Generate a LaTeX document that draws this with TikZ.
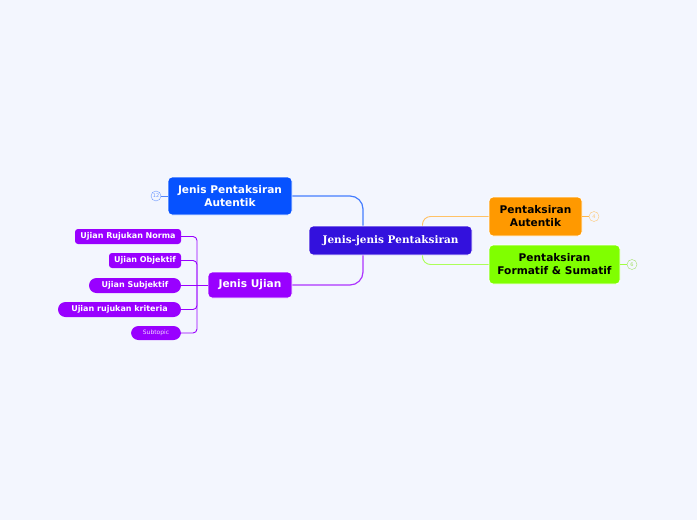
\documentclass[tikz,border=0pt]{standalone}
\usepackage{fontspec}
\setmainfont{DejaVu Sans}
\newfontfamily\serifb{DejaVu Serif}
\definecolor{bg}{HTML}{F3F6FE}
\definecolor{cmain}{HTML}{3311DD}
\definecolor{cblue}{HTML}{0652FF}
\definecolor{cpurp}{HTML}{9900FF}
\definecolor{corange}{HTML}{FF9900}
\definecolor{cgreen}{HTML}{80FF00}
\tikzset{
  base/.style={rounded corners=4pt, inner sep=0pt, align=center, font=\bfseries\fontsize{10.6}{13}\selectfont},
  topic/.style={base, draw=white, line width=0.8pt},
  sub/.style={fill=cpurp, inner sep=0pt, text=white, font=\bfseries\fontsize{8}{9}\selectfont, minimum height=15pt},
  subrect/.style={sub, rounded corners=3pt},
  subpill/.style={sub, rounded corners=7.5pt},
  count/.style={circle, draw=#1, fill=bg, minimum size=10pt, inner sep=0pt, text=#1, font=\fontsize{5}{5}\selectfont},
  conn/.style={line width=1.2pt},
  thin/.style={line width=0.9pt}
}
\begin{document}
\begin{tikzpicture}[x=1pt,y=-1pt]
\fill[bg] (0,0) rectangle (697,520);
\useasboundingbox (0,0) rectangle (697,520);

\node[topic, fill=cmain, text=white, minimum width=163pt, minimum height=29pt, font=\serifb\bfseries\fontsize{10.5}{12}\selectfont] (c) at (390.5,240.5) {Jenis-jenis Pentaksiran};
\node[topic, fill=cblue, text=white, minimum width=124pt, minimum height=38pt] (jpa) at (230,196) {Jenis Pentaksiran\\Autentik};
\node[topic, fill=cpurp, text=white, minimum width=84pt, minimum height=26pt] (ju) at (250,285) {Jenis Ujian};
\node[topic, fill=corange, text=black, minimum width=93pt, minimum height=39pt] (pa) at (535.5,216.5) {Pentaksiran\\Autentik};
\node[topic, fill=cgreen, text=black, minimum width=131pt, minimum height=39pt] (pf) at (554.5,264.5) {Pentaksiran\\Formatif \& Sumatif};

\node[subrect, minimum width=106pt] (n1) at (128,236.5) {Ujian Rujukan Norma};
\node[subrect, minimum width=72pt] (n2) at (145,260.5) {Ujian Objektif};
\node[subpill, minimum width=92pt] (n3) at (135,285.5) {Ujian Subjektif};
\node[subpill, minimum width=123pt] (n4) at (119.5,309.5) {Ujian rujukan kriteria};
\node[subpill, minimum width=50pt, minimum height=14pt, font=\fontsize{6}{7}\selectfont, text=white!85!cpurp] (n5) at (156,333) {Subtopic};

\node[count=cblue!60] (k12) at (156,196) {12};
\node[count=corange!55] (k4) at (594,216.5) {4};
\node[count=cgreen!80!black!60] (k6) at (632,264.5) {6};

% main connectors
\draw[conn, cblue!75, rounded corners=13pt] (jpa.east) -| ([xshift=-27.5pt]c.north);
\draw[conn, cpurp!80, rounded corners=13pt] (ju.east) -| ([xshift=-27.5pt]c.south);
\draw[thin, corange!60, rounded corners=8pt] ([xshift=32pt]c.north) |- (pa.west);
\draw[thin, cgreen!65, rounded corners=8pt] ([xshift=32pt]c.south) |- (pf.west);

% count connectors
\draw[thin, cblue!70] (k12) -- (jpa.west);
\draw[thin, corange!70] (pa.east) -- (k4);
\draw[thin, cgreen!75] (pf.east) -- (k6);

% bracket
\coordinate (br) at (197,285);
\draw[thin, cpurp] (ju.west) -- (br);
\draw[thin, cpurp, rounded corners=4pt] (n1.east) -| (br);
\draw[thin, cpurp, rounded corners=4pt] (n2.east) -| (br);
\draw[thin, cpurp] (n3.east) -- (n3.east -| br);
\draw[thin, cpurp, rounded corners=4pt] (n4.east) -| (br);
\draw[thin, cpurp, rounded corners=4pt] (n5.east) -| (br);
\end{tikzpicture}
\end{document}
